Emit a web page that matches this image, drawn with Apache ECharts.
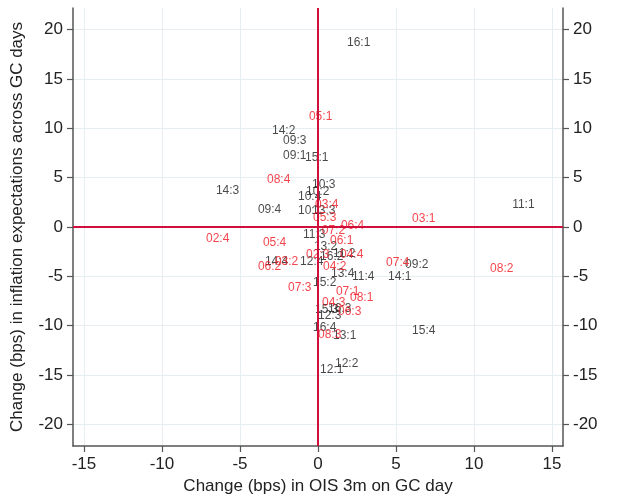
<!DOCTYPE html>
<html>
<head>
<meta charset="utf-8">
<script src="https://cdn.jsdelivr.net/npm/echarts@6/dist/echarts.min.js"></script>
<style>html,body{margin:0;padding:0;background:#fff}#c{width:619px;height:500px}</style>
</head>
<body>
<div id="c"></div>
<script>
// ---- data ----
var blackLabels = ["16:1","14:2","09:3","09:1","15:1","10:3","10:2","10:4","14:3","09:4","10:1","13:3","11:1","11:3","13:2","12:4","14:4","11:2","16:2","13:4","11:4","14:1","09:2","15:2","15:3","16:3","12:3","16:4","13:1","15:4","12:2","12:1"];
var blackX = [1.86,-2.95,-2.24,-2.24,-0.83,-0.38,-0.77,-1.28,-6.54,-3.85,-1.28,-0.38,12.44,-0.96,-0.26,-1.15,-3.40,0.96,0.13,0.83,2.18,4.49,5.58,-0.32,-0.19,0.64,0.00,-0.32,0.96,6.03,1.09,0.13];
var blackY = [18.69,9.72,8.72,7.20,7.00,4.33,3.63,3.07,3.68,1.76,1.66,1.66,2.27,-0.76,-1.96,-3.48,-3.48,-2.67,-2.97,-4.69,-4.99,-4.99,-3.78,-5.69,-8.41,-8.30,-9.00,-10.20,-11.00,-10.50,-13.85,-14.46];

var redLabels = ["05:1","08:4","03:4","05:3","06:4","03:1","07:2","02:4","05:4","06:1","02:3","04:4","06:2","03:2","04:2","07:4","08:2","07:3","07:1","08:1","04:3","06:3","08:3"];
var redX = [-0.58,-3.27,-0.19,-0.32,1.47,6.03,0.24,-7.18,-3.53,0.77,-0.77,1.41,-3.85,-2.76,0.32,4.36,11.03,-1.92,1.15,2.05,0.26,1.28,0.00];
var redY = [11.23,4.79,2.27,0.96,0.15,0.86,-0.42,-1.16,-1.56,-1.36,-2.77,-2.77,-3.98,-3.48,-3.98,-3.58,-4.18,-6.20,-6.60,-7.20,-7.70,-8.60,-10.93];

var xTicks = [-15,-10,-5,0,5,10,15];
var yTicks = [-20,-15,-10,-5,0,5,10,15,20];

var xTitle = "Change (bps) in OIS 3m on GC day";
var yTitle = "Change (bps) in inflation expectations across GC days";

// ---- build ----
function pts(lbl, xs, ys){ return lbl.map(function(n,i){ return {name:n, value:[xs[i], ys[i]]}; }); }
var FONT = "Liberation Sans";
var axisCol = "#555";
var gridCol = "#e6eef1";

function yAxisDef(pos, withName){
  return {
    type:'value', position:pos, min:-22.2, max:22.2,
    name: withName ? yTitle : '', nameLocation:'middle', nameGap:47,
    nameTextStyle:{fontFamily:FONT, fontSize:17, color:'#222'},
    axisLine:{show:true, onZero:false, lineStyle:{color:axisCol, width:1.5}},
    axisTick:{show:true, length:6, customValues:yTicks, lineStyle:{color:axisCol, width:1.2}},
    axisLabel:{show:true, margin:10, customValues:yTicks, fontFamily:FONT, fontSize:17, color:'#222'},
    splitLine:{show:withName, lineStyle:{color:gridCol, width:1}}
  };
}

var labelBase = {show:true, position:'right', distance:0, fontFamily:FONT, fontSize:12,
  formatter:function(p){return p.name;}};

var option = {
  animation:false,
  grid:{left:73, right:56, top:8, bottom:52},
  xAxis:{
    type:'value', min:-15.7, max:15.7,
    name:xTitle, nameLocation:'middle', nameGap:32,
    nameTextStyle:{fontFamily:FONT, fontSize:17, color:'#222'},
    axisLine:{show:true, onZero:false, lineStyle:{color:axisCol, width:1.5}},
    axisTick:{show:true, length:6, customValues:xTicks, lineStyle:{color:axisCol, width:1.2}},
    axisLabel:{show:true, margin:10, customValues:xTicks, fontFamily:FONT, fontSize:17, color:'#222'},
    splitLine:{show:true, lineStyle:{color:gridCol, width:1}}
  },
  yAxis:[yAxisDef('left', true), yAxisDef('right', false)],
  series:[
    {type:'scatter', yAxisIndex:0, symbolSize:0, data:pts(blackLabels, blackX, blackY),
     label:Object.assign({color:'#1a1a1a'}, labelBase), z:3,
     markLine:{silent:true, symbol:'none', label:{show:false},
       lineStyle:{color:'#d0103a', width:2, type:'solid'},
       data:[{xAxis:0},{yAxis:0}]}},
    {type:'scatter', yAxisIndex:0, symbolSize:0, data:pts(redLabels, redX, redY),
     label:Object.assign({color:'#f0141e'}, labelBase), z:4}
  ]
};
var chart = echarts.init(document.getElementById('c'), null, {renderer:'canvas'});
chart.setOption(option);
</script>
</body>
</html>
